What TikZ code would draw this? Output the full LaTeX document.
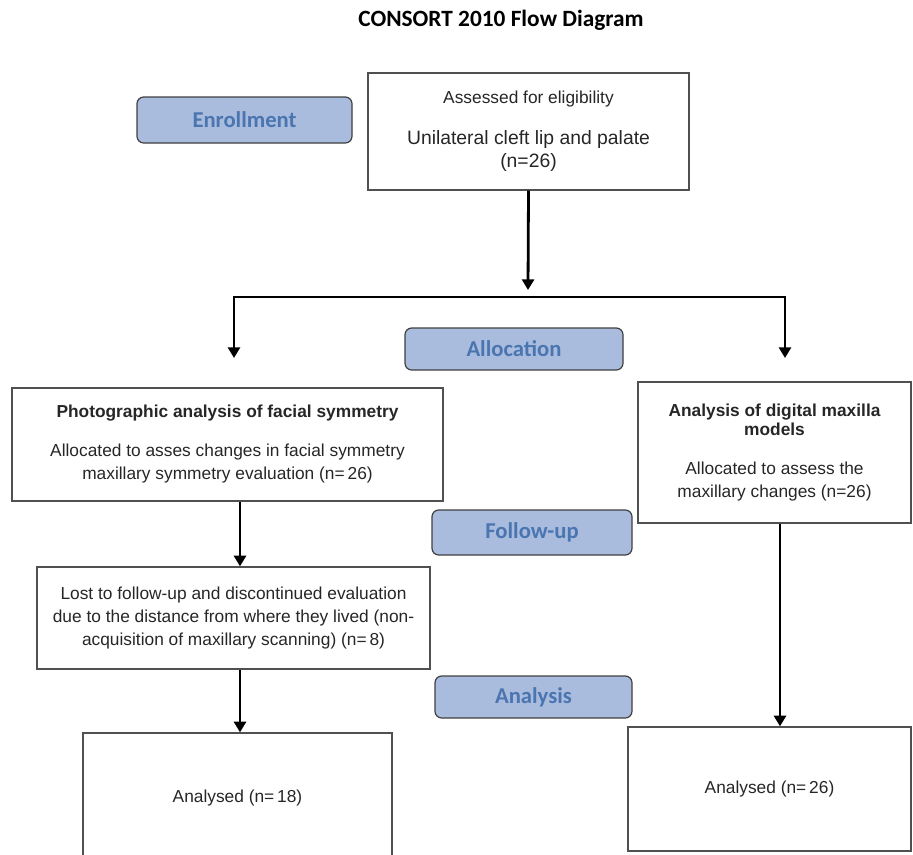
\documentclass[tikz,border=0pt]{standalone}
\usepackage{fontspec}
\setmainfont{Liberation Sans}
\newfontfamily\stagefont{Carlito}
\usetikzlibrary{positioning, arrows.meta}
\definecolor{stagefill}{HTML}{A9BCDD}
\definecolor{stagetext}{HTML}{4A75B0}
\definecolor{boxline}{HTML}{505050}

\tikzset{
  infobox/.style={draw=boxline, line width=1pt, align=center, inner sep=0pt,
    text=black!85, font=\fontsize{13}{17.25}\selectfont},
  stage/.style={draw=black!75, fill=stagefill, rounded corners=5pt, line width=0.9pt,
    text=stagetext, font=\stagefont\bfseries\fontsize{17}{20}\selectfont},
  flow/.style={line width=2.1pt, -{Triangle[width=9pt,length=8pt]}},
  flowboth/.style={line width=2.1pt, {Triangle[width=9pt,length=8pt]}-{Triangle[width=9pt,length=8pt]}}
}

\begin{document}
\begin{tikzpicture}[x=0.75pt, y=-0.75pt]
    \useasboundingbox (0,0) rectangle (913,854);
    \clip (0,0) rectangle (913,854);

    \node[font=\stagefont\bfseries\fontsize{17.5}{20}\selectfont] (title) at (501,20) {CONSORT 2010 Flow Diagram};

    % stage labels
    \node[stage, minimum width=161.25pt, minimum height=34.5pt] (enrol) at (244.5,120) {Enrollment};
    \node[stage, minimum width=163.5pt, minimum height=31.5pt] (alloc) at (514,349) {Allocation};
    \node[stage, minimum width=150pt, minimum height=33.75pt] (follow) at (532,532.5) {Follow-up};
    \node[stage, minimum width=147.75pt, minimum height=31.5pt] (analysis) at (533.5,697) {Analysis};

    % boxes
    \node[infobox, minimum width=240.75pt, minimum height=87.75pt,
      font=\fontsize{14.5}{17.25}\selectfont] (elig) at (528.5,131.5)
      {{\fontsize{13}{16}\selectfont Assessed for eligibility}\\[13.5pt]
       Unilateral cleft lip and palate\\(n=26)};
    \node[infobox, minimum width=323.25pt, minimum height=84.75pt] (photo) at (227.5,444.5)
      {\bfseries Photographic analysis of facial symmetry\\[12pt]
       Allocated to asses changes in facial symmetry\\
       maxillary symmetry evaluation (n=\,26)};
    \node[infobox, minimum width=204.75pt, minimum height=105.75pt] (digital) at (774.5,452.5)
      {\bfseries Analysis of digital maxilla\\[-3pt]
       \bfseries models\\[12pt]
       Allocated to assess the\\
       maxillary changes (n=26)};
    \node[infobox, minimum width=294.75pt, minimum height=76.5pt] (lost) at (233.5,618)
      {Lost to follow-up and discontinued evaluation\\
       due to the distance from where they lived (non-\\
       acquisition of maxillary scanning) (n=\,8)};
    \node[infobox, minimum width=231.75pt, minimum height=97.5pt] (leftend) at (237.5,798)
      {Analysed (n=\,18)};
    \node[infobox, minimum width=212.25pt, minimum height=93pt] (rightend) at (769.5,789)
      {Analysed (n=\,26)};

    % connectors
    \coordinate (split) at (528,290);
    \coordinate (splitL) at (234,297);
    \coordinate (splitR) at (785,297);
    \coordinate (dropL) at (234,358);
    \coordinate (dropR) at (785,358);
    \coordinate (leftcol) at (240,0);
    \coordinate (rightcol) at (780,0);

    \draw[flow] (elig.south) -- (split);
    \draw[flowboth] (dropL) -- (splitL) -- (splitR) -- (dropR);
    \draw[flow] (leftcol |- photo.south) -- (leftcol |- lost.north);
    \draw[flow] (leftcol |- lost.south) -- (leftcol |- leftend.north);
    \draw[flow] (rightcol |- digital.south) -- (rightcol |- rightend.north);
\end{tikzpicture}
\end{document}
